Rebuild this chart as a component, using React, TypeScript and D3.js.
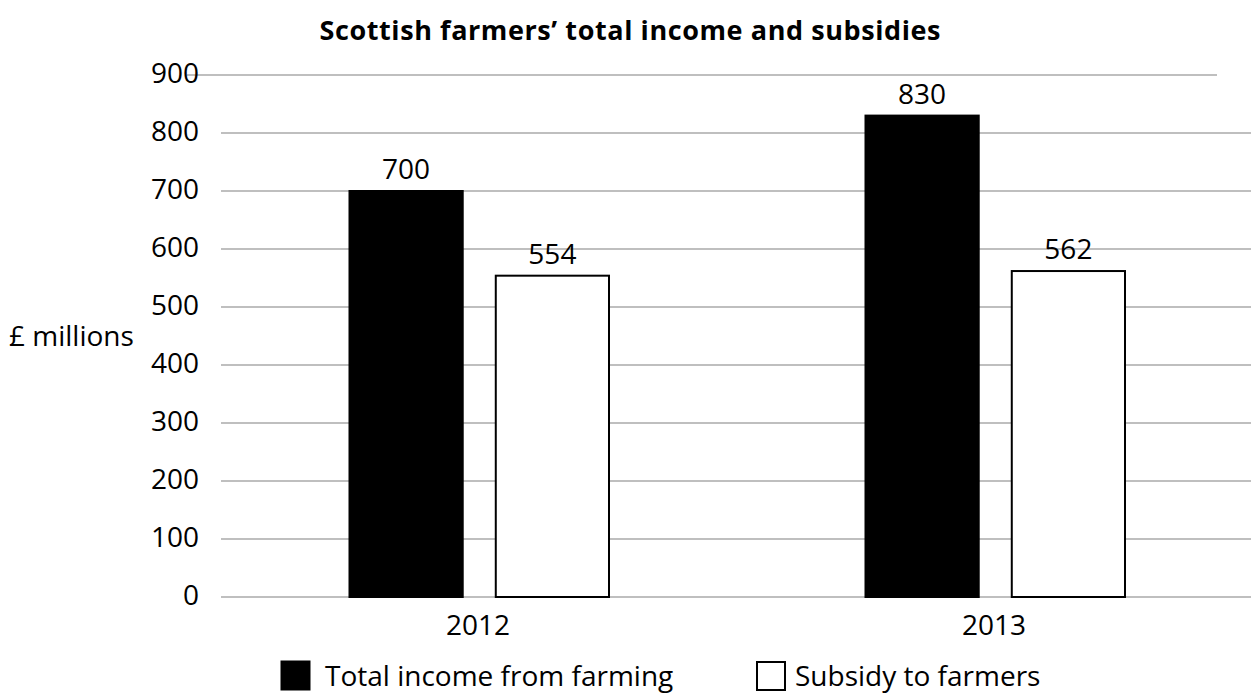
import React from "react";
import * as d3 from "d3";

const title = "Scottish farmers’ total income and subsidies";
const yAxisLabel = "£ millions";
const years = ["2012", "2013"];
const seriesNames = ["Total income from farming", "Subsidy to farmers"];
const totalIncome = [700, 830];
const subsidy = [554, 562];
const yTicks = [0, 100, 200, 300, 400, 500, 600, 700, 800, 900];

const W = 1258;
const H = 695;
const FONT = "'Open Sans', 'Noto Sans', sans-serif";

export default function App() {
  const left = 220;
  const right = 1252;
  const gridLeft = 221;
  const gridRight = 1251;
  const yMax = yTicks[yTicks.length - 1];
  const y = d3.scaleLinear().domain([0, yMax]).range([597, 75]);
  const x0 = d3.scaleBand<string>().domain(years).range([left, right]).padding(0);
  const bw = x0.bandwidth();
  const x1 = d3
    .scaleBand<string>()
    .domain(seriesNames)
    .range([129.5, bw - 127])
    .paddingInner(0.226)
    .paddingOuter(0);
  const values = [totalIncome, subsidy];
  const fills = ["#000000", "#ffffff"];

  return (
    <svg
      width={W}
      height={H}
      style={{ position: "absolute", left: 0, top: 0, background: "#fff" }}
      fontFamily={FONT}
    >
      <text x={630} y={40} textAnchor="middle" fontWeight="bold" fontSize={27} textLength={621} lengthAdjust="spacing" fill="#000">
        {title}
      </text>
      {yTicks.map((t) => {
        const isTop = t === yMax;
        return (
          <g key={t}>
            <line
              x1={isTop ? 187 : gridLeft}
              x2={isTop ? 1217 : gridRight}
              y1={y(t)}
              y2={y(t)}
              stroke="#bfbfbf"
              strokeWidth={2}
            />
            <text x={199} y={y(t)} dy="0.3em" textAnchor="end" fontSize={28} fill="#000">
              {t}
            </text>
          </g>
        );
      })}
      <text x={9} y={336} dy="0.35em" fontSize={28} fill="#000">
        {yAxisLabel}
      </text>
      {years.map((yr, i) => (
        <g key={yr} transform={`translate(${x0(yr)},0)`}>
          {seriesNames.map((s, j) => {
            const v = values[j][i];
            const bx = x1(s)!;
            return (
              <g key={s}>
                <rect
                  x={bx}
                  y={y(v)}
                  width={x1.bandwidth()}
                  height={y(0) - y(v)}
                  fill={fills[j]}
                  stroke="#000"
                  strokeWidth={2}
                />
                <text
                  x={bx + x1.bandwidth() / 2}
                  y={y(v) - 12}
                  textAnchor="middle"
                  fontSize={28}
                  fill="#000"
                >
                  {v}
                </text>
              </g>
            );
          })}
          <text x={bw / 2} y={635} textAnchor="middle" fontSize={28} fill="#000">
            {yr}
          </text>
        </g>
      ))}
      <g>
        <rect x={281} y={661} width={29} height={29} fill="#000" stroke="#000" strokeWidth={1} />
        <text x={325} y={686} fontSize={28} fill="#000">
          {seriesNames[0]}
        </text>
        <rect x={757} y={662} width={28} height={28} fill="#fff" stroke="#000" strokeWidth={2} />
        <text x={795} y={686} fontSize={28} fill="#000">
          {seriesNames[1]}
        </text>
      </g>
    </svg>
  );
}
